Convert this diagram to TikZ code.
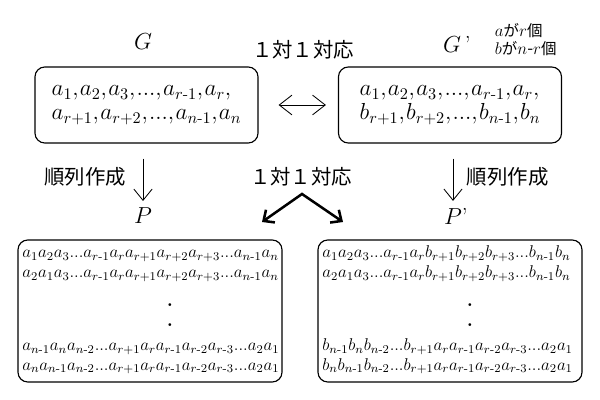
\documentclass[tikz,border=0pt]{standalone}
\usepackage{fix-cm}
\usepackage{amsmath}
\usepackage{fontspec}
\newfontfamily\jpfont{Noto Sans CJK JP}
\usetikzlibrary{arrows.meta,positioning}

\newcommand{\hy}{\text{-}}
\newcommand{\cma}{{,}\mkern1mu}
\newcommand{\nvar}[1]{{\fontsize{12}{12}\selectfont$#1$}}

\begin{document}
\begin{tikzpicture}[x=0.025cm,y=-0.025cm,
      lbl/.style={font=\fontsize{16.5}{16.5}\selectfont},
      jp/.style={font=\jpfont\fontsize{14.5}{15}\selectfont},
      note/.style={font=\jpfont\fontsize{11}{12.8}\selectfont,align=left},
      grp/.style={draw,line width=0.8pt,rounded corners=7pt,
                  minimum width=5.575cm,minimum height=1.9cm,
                  align=left,font=\fontsize{16.5}{17}\selectfont},
      perm/.style={draw,line width=0.8pt,rounded corners=7pt,
                   minimum width=6.6cm,minimum height=3.55cm},
      row/.style={anchor=base west,inner sep=0pt,
                  font=\fontsize{12.1}{13}\selectfont},
      dot/.style={inner sep=0pt,font=\fontsize{14}{14}\bfseries},
      down/.style={-{Straight Barb[length=8pt,width=13pt]},line width=0.6pt,
                   shorten <=0.375cm,shorten >=1.5pt},
      dbl/.style={{Straight Barb[length=9pt,width=14pt]}-{Straight Barb[length=9pt,width=14pt]},
                  line width=0.6pt},
      chev/.style={{Straight Barb[length=6pt,width=11pt]}-{Straight Barb[length=6pt,width=11pt]},
                   line width=1.8pt},
  ]
  \useasboundingbox (0,0) rectangle (600,400);

  %--- top: the two groups ---
  \node[lbl] (G) at (143,42) {$G$};
  \node[lbl] (Gp) at (452,44) {$G$\rlap{\,’}};
  \node[note,anchor=west] (cnt) at (490,40)
    {\nvar{a}が\nvar{r}個\\\nvar{b}が\nvar{n\hy r}個};
  \node[jp] (bij1) at (303,50) {１対１対応};

  \node[grp] (Gbox) at (146.5,105)
    {$a_1\cma a_2\cma a_3\cma...\cma a_{r\hy1}\cma a_r{,}$\\
     $a_{r+1}\cma a_{r+2}\cma...\cma a_{n\hy1}\cma a_n$};
  \node[grp] (Gpbox) at (450,105)
    {$a_1\cma a_2\cma a_3\cma...\cma a_{r\hy1}\cma a_r{,}$\\
     $b_{r+1}\cma b_{r+2}\cma...\cma b_{n\hy1}\cma b_n$};

  \draw[dbl,shorten <=0.5cm,shorten >=0.3cm] (Gbox) -- (Gpbox);

  %--- middle: making permutations ---
  \node[lbl] (P) at (143,216) {$P$};
  \node[lbl] (Pp) at (453,216) {$P$\rlap{’}};
  \node[jp,anchor=east] (mkL) at (131,177) {順列作成};
  \node[jp,anchor=west] (mkR) at (462,177) {順列作成};
  \node[jp] (bij2) at (301,177) {１対１対応};

  \draw[down] (Gbox.south -| P) -- (P);
  \draw[down] (Gpbox.south -| Pp) -- (Pp);

  % chevron
  \coordinate (apex) at (302,194);
  \coordinate (cl) at (262,222);
  \coordinate (cr) at (343,222);
  \draw[chev] (cl) -- (apex) -- (cr);

  %--- bottom: the permutations ---
  \node[perm] (Pbox) at (150,311) {};
  \node[perm] (Ppbox) at (450,311) {};

  \node[row] (l1) at (22,258)
    {$a_1a_2a_3...a_{r\hy1}a_ra_{r+1}a_{r+2}a_{r+3}...a_{n\hy1}a_n$};
  \node[row] (l2) at (22,278)
    {$a_2a_1a_3...a_{r\hy1}a_ra_{r+1}a_{r+2}a_{r+3}...a_{n\hy1}a_n$};
  \node[dot] (ld1) at (170,305) {.};
  \node[dot] (ld2) at (170,325) {.};
  \node[row] (l3) at (22,351)
    {$a_{n\hy1}a_na_{n\hy2}...a_{r+1}a_ra_{r\hy1}a_{r\hy2}a_{r\hy3}...a_2a_1$};
  \node[row] (l4) at (22,370)
    {$a_na_{n\hy1}a_{n\hy2}...a_{r+1}a_ra_{r\hy1}a_{r\hy2}a_{r\hy3}...a_2a_1$};

  \node[row] (r1) at (322,258)
    {$a_1a_2a_3...a_{r\hy1}a_rb_{r+1}b_{r+2}b_{r+3}...b_{n\hy1}b_n$};
  \node[row] (r2) at (322,278)
    {$a_2a_1a_3...a_{r\hy1}a_rb_{r+1}b_{r+2}b_{r+3}...b_{n\hy1}b_n$};
  \node[dot] (rd1) at (470,305) {.};
  \node[dot] (rd2) at (470,325) {.};
  \node[row] (r3) at (322,351)
    {$b_{n\hy1}b_nb_{n\hy2}...b_{r+1}a_ra_{r\hy1}a_{r\hy2}a_{r\hy3}...a_2a_1$};
  \node[row] (r4) at (322,370)
    {$b_nb_{n\hy1}b_{n\hy2}...b_{r+1}a_ra_{r\hy1}a_{r\hy2}a_{r\hy3}...a_2a_1$};
\end{tikzpicture}
\end{document}
